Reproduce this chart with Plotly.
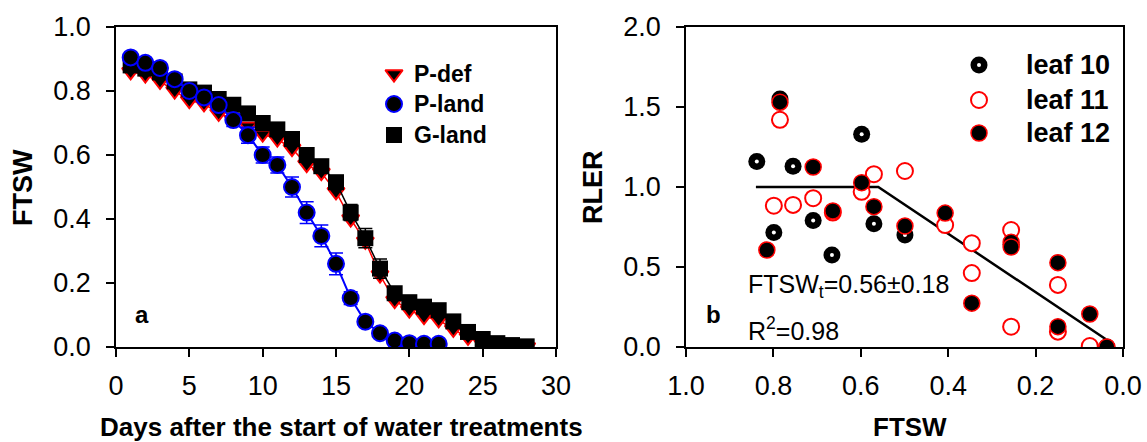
import plotly.graph_objects as go

# ---------------- data: panel a (FTSW vs days) ----------------
days = list(range(1, 29))
p_def = [0.86, 0.85, 0.83, 0.80, 0.77, 0.76, 0.73, 0.71, 0.69, 0.665,
         0.65, 0.62, 0.57, 0.545, 0.485, 0.40, 0.33, 0.225, 0.145, 0.115,
         0.095, 0.085, 0.055, 0.03, 0.01, 0.005, 0.0, 0.0]
g_land = [0.88, 0.87, 0.858, 0.83, 0.805, 0.795, 0.775, 0.757, 0.73, 0.70,
          0.68, 0.65, 0.60, 0.565, 0.515, 0.42, 0.34, 0.245, 0.168, 0.14,
          0.126, 0.115, 0.08, 0.047, 0.025, 0.012, 0.006, 0.002]
g_land_err = [0.005, 0.005, 0.005, 0.005, 0.005, 0.005, 0.005, 0.005, 0.005, 0.008,
              0.008, 0.01, 0.012, 0.015, 0.02, 0.025, 0.03, 0.03, 0.02, 0.015,
              0.01, 0.01, 0.01, 0.008, 0.005, 0.005, 0.005, 0.005]
p_land_days = list(range(1, 23))
p_land = [0.905, 0.888, 0.872, 0.837, 0.80, 0.78, 0.756, 0.709, 0.662, 0.60,
          0.569, 0.50, 0.42, 0.347, 0.26, 0.153, 0.079, 0.043, 0.02, 0.012,
          0.01, 0.01]
p_land_err = [0.01, 0.01, 0.01, 0.01, 0.01, 0.01, 0.015, 0.02, 0.025, 0.025,
              0.025, 0.031, 0.034, 0.034, 0.034, 0.02, 0.01, 0.005, 0.005, 0.005,
              0.005, 0.005]

# ---------------- data: panel b (RLER vs FTSW) ----------------
leaf10_ftsw = [0.838, 0.785, 0.755, 0.709, 0.799, 0.666, 0.598, 0.570, 0.499, 0.256, 0.037]
leaf10_rler = [1.16, 1.55, 1.13, 0.79, 0.715, 0.575, 1.33, 0.77, 0.70, 0.64, 0.0]
leaf11_ftsw = [0.785, 0.570, 0.499, 0.598, 0.799, 0.755, 0.709, 0.664, 0.407, 0.346,
               0.346, 0.256, 0.256, 0.149, 0.149, 0.076]
leaf11_rler = [1.42, 1.08, 1.10, 0.97, 0.883, 0.888, 0.93, 0.84, 0.762, 0.649,
               0.462, 0.731, 0.127, 0.388, 0.096, 0.006]
leaf12_ftsw = [0.785, 0.709, 0.598, 0.664, 0.570, 0.815, 0.499, 0.407, 0.346, 0.256,
               0.256, 0.149, 0.149, 0.076, 0.037]
leaf12_rler = [1.53, 1.125, 1.027, 0.85, 0.877, 0.606, 0.756, 0.837, 0.274, 0.655,
               0.625, 0.527, 0.127, 0.206, 0.0]
fit_ftsw = [0.84, 0.56, 0.04]
fit_rler = [1.0, 1.0, 0.05]

x_ticks_a = [0, 5, 10, 15, 20, 25, 30]
y_ticks_a = [0.0, 0.2, 0.4, 0.6, 0.8, 1.0]
x_ticks_b = [1.0, 0.8, 0.6, 0.4, 0.2, 0.0]
y_ticks_b = [0.0, 0.5, 1.0, 1.5, 2.0]

W, H = 1147, 442
FONT = "Liberation Sans, Arial, sans-serif"
TICK_SIZE = 27
TITLE_SIZE = 27

fig = go.Figure()

# panel a
fig.add_trace(go.Scatter(
    x=days, y=p_def, mode="lines+markers", xaxis="x", yaxis="y",
    line=dict(color="red", width=1.5),
    marker=dict(symbol="triangle-down", size=15, color="black",
                line=dict(color="red", width=2)),
    showlegend=False))
fig.add_trace(go.Scatter(
    x=days, y=g_land, mode="lines+markers", xaxis="x", yaxis="y",
    line=dict(color="black", width=1.5),
    error_y=dict(type="data", array=g_land_err, color="black", thickness=1.5, width=7),
    marker=dict(symbol="square", size=16, color="black",
                line=dict(color="black", width=0)),
    showlegend=False))
fig.add_trace(go.Scatter(
    x=p_land_days, y=p_land, mode="lines+markers", xaxis="x", yaxis="y",
    line=dict(color="blue", width=2),
    error_y=dict(type="data", array=p_land_err, color="blue", thickness=1.5, width=7),
    marker=dict(symbol="circle", size=16, color="black",
                line=dict(color="blue", width=2)),
    showlegend=False))

# panel b
fig.add_trace(go.Scatter(
    x=fit_ftsw, y=fit_rler, mode="lines", xaxis="x2", yaxis="y2",
    line=dict(color="black", width=2.5), showlegend=False))
fig.add_trace(go.Scatter(
    x=leaf10_ftsw, y=leaf10_rler, mode="markers", xaxis="x2", yaxis="y2",
    marker=dict(symbol="circle", size=17, color="black", line=dict(width=0)),
    showlegend=False))
fig.add_trace(go.Scatter(
    x=leaf10_ftsw, y=leaf10_rler, mode="markers", xaxis="x2", yaxis="y2",
    marker=dict(symbol="circle", size=4, color="white", line=dict(width=0)),
    showlegend=False, hoverinfo="skip"))
fig.add_trace(go.Scatter(
    x=leaf11_ftsw, y=leaf11_rler, mode="markers", xaxis="x2", yaxis="y2",
    marker=dict(symbol="circle", size=16, color="white", line=dict(color="red", width=2)),
    showlegend=False))
fig.add_trace(go.Scatter(
    x=leaf12_ftsw, y=leaf12_rler, mode="markers", xaxis="x2", yaxis="y2",
    marker=dict(symbol="circle", size=16, color="black", line=dict(color="red", width=1.5)),
    showlegend=False))

# legend glyphs drawn on a pixel-space overlay axis
legend_a = [
    ("P-def", dict(symbol="triangle-down", size=15, color="black", line=dict(color="red", width=2))),
    ("P-land", dict(symbol="circle", size=16, color="black", line=dict(color="blue", width=2))),
    ("G-land", dict(symbol="square", size=16, color="black", line=dict(width=0))),
]
legend_a_x, legend_a_text_x, legend_a_y = 394, 412, [74, 104, 135]
legend_b = [
    ("leaf 10", dict(symbol="circle", size=17, color="black", line=dict(width=0))),
    ("leaf 11", dict(symbol="circle", size=16, color="white", line=dict(color="red", width=2))),
    ("leaf 12", dict(symbol="circle", size=16, color="black", line=dict(color="red", width=1.5))),
]
legend_b_x, legend_b_text_x, legend_b_y = 979, 1024, [65, 100, 133]

annotations = []
for (name, mk), yy in zip(legend_a, legend_a_y):
    fig.add_trace(go.Scatter(x=[legend_a_x], y=[yy], mode="markers", xaxis="x3", yaxis="y3",
                             marker=mk, showlegend=False, hoverinfo="skip"))
    annotations.append(dict(x=legend_a_text_x, y=yy, xref="x3", yref="y3", text=f"<b>{name}</b>",
                            showarrow=False, xanchor="left", yanchor="middle",
                            font=dict(family=FONT, size=23, color="black")))
for (name, mk), yy in zip(legend_b, legend_b_y):
    fig.add_trace(go.Scatter(x=[legend_b_x], y=[yy], mode="markers", xaxis="x3", yaxis="y3",
                             marker=mk, showlegend=False, hoverinfo="skip"))
    annotations.append(dict(x=legend_b_text_x, y=yy, xref="x3", yref="y3", text=f"<b>{name}</b>",
                            showarrow=False, xanchor="left", yanchor="middle",
                            font=dict(family=FONT, size=27, color="black")))
fig.add_trace(go.Scatter(x=[legend_b_x], y=[legend_b_y[0]], mode="markers", xaxis="x3", yaxis="y3",
                         marker=dict(symbol="circle", size=4, color="white", line=dict(width=0)),
                         showlegend=False, hoverinfo="skip"))

def px_ann(x, y, text, size, bold=False, angle=0, xanchor="center"):
    return dict(x=x, y=y, xref="x3", yref="y3", text=f"<b>{text}</b>" if bold else text,
                showarrow=False, xanchor=xanchor, yanchor="middle", textangle=angle,
                font=dict(family=FONT, size=size, color="black"))

annotations += [
    px_ann(23, 188, "FTSW", TITLE_SIZE, bold=True, angle=-90),
    px_ann(593, 187, "RLER", TITLE_SIZE, bold=True, angle=-90),
    px_ann(341, 427, "Days after the start of water treatments", 26, bold=True),
    px_ann(910, 427, "FTSW", 26, bold=True),
    px_ann(142, 314, "a", 24, bold=True),
    px_ann(713, 314, "b", 24, bold=True),
    px_ann(746, 286, "FTSW<sub>t</sub>=0.56±0.18", 25, xanchor="left"),
    px_ann(746, 329, "R<sup>2</sup>=0.98", 25, xanchor="left"),
]

axis_common = dict(
    showline=True, linecolor="black", linewidth=1.5, mirror=True,
    ticks="outside", ticklen=8, tickwidth=1.5, tickcolor="black",
    showgrid=False, zeroline=False, automargin=False,
    tickfont=dict(family=FONT, size=TICK_SIZE, color="black"),
)

y_dom = [(H - 347) / H, (H - 27) / H]
fig.update_layout(
    width=W, height=H, margin=dict(l=0, r=0, t=0, b=0, autoexpand=False),
    paper_bgcolor="white", plot_bgcolor="rgba(0,0,0,0)",
    xaxis=dict(domain=[116 / W, 556 / W], range=[0, 30], tickvals=x_ticks_a,
               ticktext=[str(v) for v in x_ticks_a], anchor="y",
               ticklabelstandoff=6, **axis_common),
    yaxis=dict(domain=y_dom, range=[0, 1.0], tickvals=y_ticks_a,
               ticktext=[f"{v:.1f}" for v in y_ticks_a], anchor="x",
               ticklabelstandoff=10, **axis_common),
    xaxis2=dict(domain=[686 / W, 1123 / W], range=[1.0, 0.0], tickvals=x_ticks_b,
                ticktext=[f"{v:.1f}" for v in x_ticks_b], anchor="y2",
                ticklabelstandoff=6, **axis_common),
    yaxis2=dict(domain=y_dom, range=[0, 2.0], tickvals=y_ticks_b,
                ticktext=[f"{v:.1f}" for v in y_ticks_b], anchor="x2",
                ticklabelstandoff=10, **axis_common),
    xaxis3=dict(domain=[0, 1], range=[0, W], visible=False, anchor="y3",
                fixedrange=True, automargin=False),
    yaxis3=dict(domain=[0, 1], range=[H, 0], visible=False, anchor="x3",
                fixedrange=True, automargin=False),
    annotations=annotations,
)

fig.write_html("out.html")
